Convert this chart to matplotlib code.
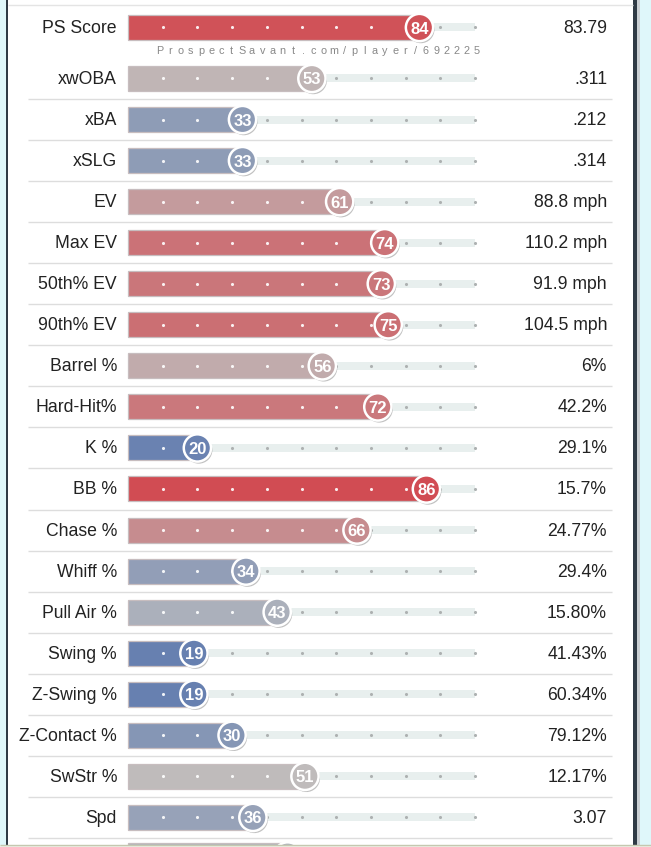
import numpy as np
import matplotlib
matplotlib.use("Agg")
import matplotlib.pyplot as plt
import matplotlib.patheffects as pe
from matplotlib.colors import LinearSegmentedColormap, Normalize

plt.rcParams['font.family'] = ['Liberation Sans', 'DejaVu Sans']

labels = ["PS Score", "xwOBA", "xBA", "xSLG", "EV", "Max EV", "50th% EV",
          "90th% EV", "Barrel %", "Hard-Hit%", "K %", "BB %", "Chase %",
          "Whiff %", "Pull Air %", "Swing %", "Z-Swing %", "Z-Contact %",
          "SwStr %", "Spd"]
pct = [84, 53, 33, 33, 61, 74, 73, 75, 56, 72, 20, 86, 66, 34, 43, 19, 19,
       30, 51, 36]
values = ["83.79", ".311", ".212", ".314", "88.8 mph", "110.2 mph",
          "91.9 mph", "104.5 mph", "6%", "42.2%", "29.1%", "15.7%", "24.77%",
          "29.4%", "15.80%", "41.43%", "60.34%", "79.12%", "12.17%", "3.07"]
next_pct = 46  # row cut off at the bottom edge
watermark = "ProspectSavant.com/player/692225"

# percentile -> pixel layout: 0 at x=128px, 100 at x=475px
PX0, PXS = 128, 3.47


def px(x):
    return (x - PX0) / PXS


cmap = LinearSegmentedColormap.from_list(
    "pct", ["#325aa8", "#bebebe", "#d8212a"])
norm = Normalize(0, 100)

fig = plt.figure(figsize=(6.51, 8.47), dpi=100)
ax = fig.add_axes([0, 0, 1, 1])
ax.set_xlim(px(0), px(651))
ax.set_ylim(847, 0)
ax.axis("off")

# row centers (pixels): first row, gap for watermark, then even rows
ys = [27.5] + [78.5 + 41.05 * i for i in range(len(labels) - 1)]
y_next = ys[-1] + 41.05 - 2.5

# frame around panel
ax.axvspan(px(0), px(5.5), color="#dff7fa", lw=0)
ax.axvspan(px(5.5), px(7.8), color="#2f3a45", lw=0)
ax.axvspan(px(633), px(636.5), color="#2f3a45", lw=0)
ax.axvspan(px(636.5), px(639.5), color="#c9cfd3", lw=0)
ax.axvspan(px(639.5), px(651), color="#dff7fa", lw=0)
ax.hlines(5, px(8), px(633), color="#e4e4e4", lw=1)

# separators between rows
for y in ys[2:] + [y_next + 2.5]:
    ax.hlines(y - 20.5, px(28), px(612), color="#dddddd", lw=1)


def draw_row(y, p, label, val, show_num=True):
    col = cmap(norm(p))
    ax.barh(y, 100, left=0, height=8, color="#e8efee", zorder=2)
    ax.barh(y, p, left=0, height=25, color=col,
            edgecolor=(0.78, 0.74, 0.75), lw=0.9, zorder=3)
    ticks = np.arange(10, 101, 10)
    on = ticks < p
    ax.scatter(ticks[on], [y] * on.sum(), s=5, color="white", alpha=0.9,
               lw=0, zorder=4)
    ax.scatter(ticks[~on], [y] * (~on).sum(), s=5, color="#adb1b1",
               lw=0, zorder=4)
    ax.scatter([p], [y], s=385, color=col, edgecolor="white", lw=1.8,
               zorder=5,
               path_effects=[pe.SimplePatchShadow(offset=(1, -1.5),
                                                  shadow_rgbFace="#777777",
                                                  alpha=0.45),
                             pe.Normal()])
    if show_num:
        ax.text(p, y + 1.5, str(p), ha="center", va="center", color="white",
                fontsize=12, fontweight="bold", zorder=6)
    if label:
        ax.text(px(117), y + 1, label, ha="right", va="center",
                fontsize=12.7, color="#222222")
    if val:
        ax.text(px(607), y + 1, val, ha="right", va="center", fontsize=12.7,
                color="#222222")


for y, p, lab, v in zip(ys, pct, labels, values):
    draw_row(y, p, lab, v)

draw_row(y_next, next_pct, "", "", show_num=False)

# watermark with wide letter spacing
xs = np.linspace(px(160), px(477), len(watermark))
for x, ch in zip(xs, watermark):
    ax.text(x, 51, ch, ha="center", va="center", fontsize=7.8,
            color="#888888")

# page edge at the bottom
ax.axhspan(845, 847, color="#eef0e6", lw=0, zorder=10)
ax.hlines(845.2, px(0), px(651), color="#c5c8b0", lw=1, zorder=11)

fig.savefig("out.png", dpi=100)
